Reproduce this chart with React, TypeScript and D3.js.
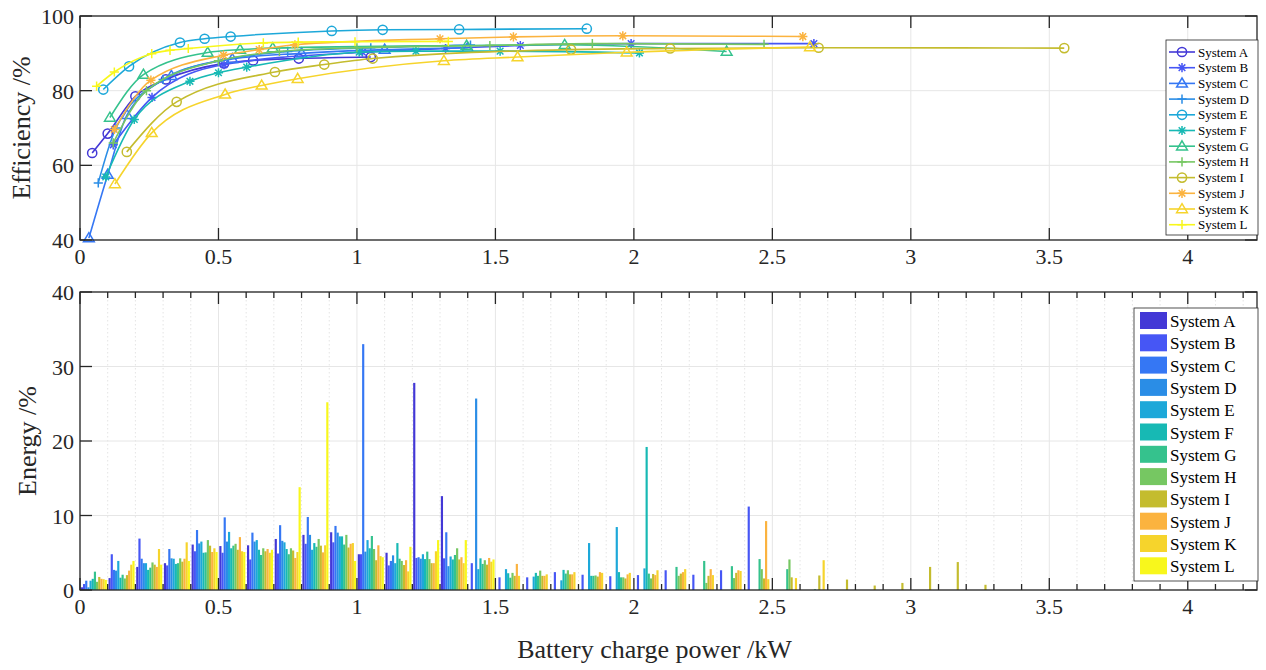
import React from "react";
import * as d3 from "d3";

const systems = ["System A", "System B", "System C", "System D", "System E", "System F", "System G", "System H", "System I", "System J", "System K", "System L"];
const colors = ["#4338d6", "#4656f5", "#3577f4", "#2a8de6", "#1da8d9", "#17b9b4", "#35c28d", "#76c762", "#c4bc2e", "#fbb33f", "#f6d42c", "#f8f71c"];
const markers = ["o", "*", "^", "+", "o", "*", "^", "+", "o", "*", "^", "+"];

// efficiency curves (battery charge power kW, efficiency %)
const powerA = [0.044, 0.1, 0.2, 0.31, 0.52, 0.625, 0.79, 1.05];
const effA = [63.3, 68.5, 78.5, 83, 87.3, 88.1, 88.6, 89.0];
const powerB = [0.12, 0.26, 0.52, 1.02, 1.32, 1.59, 1.99, 2.65];
const effB = [65.5, 78.2, 87.0, 90.3, 91.3, 92.1, 92.6, 92.6];
const powerC = [0.032, 0.1, 0.17, 0.33, 0.55, 0.8, 1.1, 1.4];
const effC = [40.5, 57.5, 73.5, 84, 88.5, 90, 91, 91.5];
const powerD = [0.066, 0.13, 0.3, 0.5, 0.75, 1.05, 1.41];
const effD = [55.3, 70, 83, 88, 90.5, 91.5, 92.2];
const powerE = [0.084, 0.177, 0.361, 0.45, 0.544, 0.909, 1.093, 1.369, 1.83];
const effE = [80.3, 86.5, 92.9, 93.9, 94.5, 96.0, 96.3, 96.4, 96.6];
const powerF = [0.093, 0.196, 0.397, 0.5, 0.602, 1.008, 1.213, 1.517, 2.02];
const effF = [56.9, 72.3, 82.5, 84.8, 86.3, 90.3, 90.6, 90.6, 90.1];
const powerG = [0.108, 0.229, 0.461, 0.578, 0.696, 1.396, 1.75, 2.335];
const effG = [72.8, 84.3, 90.2, 91.0, 91.4, 92.1, 92.3, 90.5];
const powerH = [0.12, 0.24, 0.5, 0.72, 1.0, 1.48, 1.85, 2.47];
const effH = [66, 80, 88, 90.5, 91.5, 92.1, 92.6, 92.4];
const powerI = [0.169, 0.349, 0.704, 0.882, 1.057, 1.773, 2.131, 2.667, 3.554];
const effI = [63.6, 77.0, 85.0, 87.0, 88.6, 91.0, 91.3, 91.5, 91.4];
const powerJ = [0.124, 0.256, 0.518, 0.647, 0.776, 1.3, 1.565, 1.96, 2.61];
const effJ = [69.6, 82.8, 89.5, 91.0, 92.3, 93.9, 94.4, 94.7, 94.5];
const powerK = [0.126, 0.259, 0.524, 0.656, 0.786, 1.314, 1.58, 1.974, 2.636];
const effK = [55.0, 68.7, 79.0, 81.4, 83.2, 88.0, 89.0, 90.3, 91.7];
const powerL = [0.06, 0.124, 0.259, 0.325, 0.391, 0.662, 0.788, 0.993, 1.33];
const effL = [81.2, 85.0, 89.9, 90.8, 91.3, 92.8, 93.0, 93.1, 93.2];

// energy share per 0.1 kW bin (%)
const binCenters = [0.05, 0.15, 0.25, 0.35, 0.45, 0.55, 0.65, 0.75, 0.85, 0.95, 1.05, 1.15, 1.25, 1.35, 1.45, 1.55, 1.65, 1.75, 1.85, 1.95, 2.05, 2.15, 2.25, 2.35, 2.45, 2.55, 2.65, 2.75, 2.85, 2.95, 3.05, 3.15, 3.25];
const energyA = [0.36, 1.6, 3.1, 3.6, 6.1, 5.9, 6.0, 6.85, 7.4, 7.75, 4.8, 5.0, 27.8, 12.6, 0, 0, 0, 0, 0, 0, 0, 0, 0, 0, 0, 0, 0, 0, 0, 0, 0, 0, 0];
const energyB = [0.8, 4.8, 6.9, 3.3, 5.2, 5.0, 4.1, 4.9, 6.2, 6.4, 4.8, 3.3, 4.3, 4.25, 3.6, 1.7, 1.7, 2.4, 2.05, 1.85, 2.0, 2.65, 2.05, 2.65, 11.2, 0, 0, 0, 0, 0, 0, 0, 0];
const energyC = [1.25, 2.7, 4.2, 5.5, 8.05, 9.75, 7.7, 8.7, 9.8, 8.6, 33.0, 3.9, 4.4, 7.75, 0, 0, 0, 0, 0, 0, 0, 0, 0, 0, 0, 0, 0, 0, 0, 0, 0, 0, 0];
const energyD = [0.36, 2.6, 3.6, 4.25, 6.25, 6.5, 6.5, 6.6, 7.4, 7.7, 5.15, 4.65, 4.2, 3.2, 25.7, 0, 0, 0, 0, 0, 0, 0, 0, 0, 0, 0, 0, 0, 0, 0, 0, 0, 0];
const energyE = [1.25, 3.9, 3.6, 4.2, 6.5, 7.8, 6.7, 6.4, 5.4, 7.2, 6.7, 3.6, 4.8, 4.5, 2.8, 2.8, 1.8, 1.3, 6.3, 8.45, 2.9, 0, 0, 0, 0, 0, 0, 0, 0, 0, 0, 0, 0];
const energyF = [1.5, 1.65, 2.7, 3.5, 5.0, 5.6, 5.4, 5.5, 6.3, 7.2, 5.6, 6.3, 4.15, 4.1, 4.25, 2.25, 2.3, 2.7, 1.9, 2.4, 19.2, 0, 0, 0, 0, 0, 0, 0, 0, 0, 0, 0, 0];
const energyG = [2.46, 2.05, 3.0, 3.6, 5.05, 5.95, 4.7, 4.8, 5.8, 6.1, 7.25, 4.2, 5.15, 4.7, 3.5, 1.65, 1.9, 2.2, 1.9, 1.7, 2.2, 3.1, 3.9, 3.2, 4.15, 2.8, 0.1, 0, 0, 0, 0, 0, 0];
const energyH = [1.1, 1.55, 3.7, 4.25, 6.7, 6.2, 5.6, 5.6, 6.85, 7.4, 5.5, 3.9, 4.15, 5.6, 4.0, 2.3, 2.6, 2.65, 1.95, 1.7, 1.55, 1.9, 0.95, 1.6, 2.8, 4.1, 0, 0, 0, 0, 0, 0, 0];
const energyI = [1.75, 2.0, 3.4, 3.8, 5.95, 5.4, 5.2, 5.3, 5.95, 5.7, 4.0, 3.35, 3.6, 4.1, 3.4, 1.9, 1.9, 2.1, 1.8, 1.55, 2.15, 2.2, 1.9, 2.3, 1.55, 1.7, 1.95, 1.4, 0.6, 0.95, 3.1, 3.75, 0.7];
const energyJ = [1.5, 2.6, 3.1, 4.2, 5.1, 7.1, 5.5, 4.3, 5.05, 6.2, 6.0, 4.0, 3.6, 4.4, 4.3, 3.5, 1.9, 2.1, 2.4, 2.1, 2.0, 2.4, 2.8, 2.65, 9.25, 0, 0, 0, 0, 0, 0, 0, 0];
const energyK = [1.45, 3.4, 5.5, 6.4, 5.6, 5.2, 5.0, 5.1, 6.0, 6.3, 4.55, 2.5, 5.2, 3.6, 3.8, 1.9, 2.1, 2.4, 2.3, 2.3, 2.65, 2.8, 2.0, 2.55, 1.45, 1.6, 4.0, 0, 0, 0, 0, 0, 0];
const energyL = [1.35, 3.9, 3.4, 3.9, 5.1, 5.1, 5.4, 13.8, 25.2, 3.9, 4.4, 5.8, 6.7, 6.7, 4.1, 0, 0, 0, 0, 0, 0, 0, 0, 0, 0, 0, 0, 0, 0, 0, 0, 0, 0];

const xTicks = [0, 0.5, 1, 1.5, 2, 2.5, 3, 3.5, 4];
const effTicks = [40, 60, 80, 100];
const energyTicks = [0, 10, 20, 30, 40];

const powers = [powerA, powerB, powerC, powerD, powerE, powerF, powerG, powerH, powerI, powerJ, powerK, powerL];
const effs = [effA, effB, effC, effD, effE, effF, effG, effH, effI, effJ, effK, effL];
const energies = [energyA, energyB, energyC, energyD, energyE, energyF, energyG, energyH, energyI, energyJ, energyK, energyL];

const FONT = "'Liberation Serif', 'Times New Roman', serif";
const L = 80, R = 1257;
const T1 = 16, B1 = 240;
const T2 = 292, B2 = 590;
const TICK = 12;

const Marker = ({ type, x, y, color }: { type: string; x: number; y: number; color: string }) => {
  const s = 4.6;
  if (type === "o") return <circle cx={x} cy={y} r={s} fill="none" stroke={color} strokeWidth={1.5} />;
  if (type === "^")
    return <path d={`M${x},${y - s - 0.8}L${x + s + 0.8},${y + s * 0.8}L${x - s - 0.8},${y + s * 0.8}Z`} fill="none" stroke={color} strokeWidth={1.5} />;
  if (type === "+")
    return <path d={`M${x - s},${y}H${x + s}M${x},${y - s}V${y + s}`} stroke={color} strokeWidth={1.5} />;
  const d = s * 0.72;
  return (
    <path
      d={`M${x - s},${y}H${x + s}M${x},${y - s}V${y + s}M${x - d},${y - d}L${x + d},${y + d}M${x - d},${y + d}L${x + d},${y - d}`}
      stroke={color}
      strokeWidth={1.5}
    />
  );
};

export default function App() {
  const x = d3.scaleLinear().domain([0, 4.25]).range([L, R]);
  const yE = d3.scaleLinear().domain([40, 100]).range([B1, T1]);
  const yB = d3.scaleLinear().domain([0, 40]).range([B2, T2]);

  const line = d3
    .line<[number, number]>()
    .x((d) => x(d[0]))
    .y((d) => yE(d[1]))
    .curve(d3.curveMonotoneX);

  const groupW = x(0.094) - x(0);
  const barW = groupW / systems.length;
  const minorTicks = d3.range(1, 43).map((i) => i / 10).filter((v) => Math.abs(v * 2 - Math.round(v * 2)) > 1e-6);

  const axisFrame = (top: number, bottom: number) => (
    <rect x={L} y={top} width={R - L} height={bottom - top} fill="none" stroke="#262626" strokeWidth={1.3} />
  );

  return (
    <svg width={1266} height={670} style={{ position: "absolute", left: 0, top: 0, background: "#fff" }} fontFamily={FONT}>
      {/* ---------- top: efficiency ---------- */}
      <g>
        {xTicks.map((t) => (
          <line key={"gx" + t} x1={x(t)} x2={x(t)} y1={T1} y2={B1} stroke="#e6e6e6" strokeWidth={1} />
        ))}
        {effTicks.map((t) => (
          <line key={"gy" + t} x1={L} x2={R} y1={yE(t)} y2={yE(t)} stroke="#e6e6e6" strokeWidth={1} />
        ))}
        {powers.map((p, i) => {
          const pts = p.map((v, j) => [v, effs[i][j]] as [number, number]);
          return (
            <g key={"s" + i}>
              <path d={line(pts) || ""} fill="none" stroke={colors[i]} strokeWidth={1.6} />
              {pts.map((d, j) => (
                <Marker key={j} type={markers[i]} x={x(d[0])} y={yE(d[1])} color={colors[i]} />
              ))}
            </g>
          );
        })}
        {xTicks.map((t) => (
          <g key={"tx" + t}>
            <line x1={x(t)} x2={x(t)} y1={B1} y2={B1 - TICK} stroke="#262626" strokeWidth={1.3} />
            <line x1={x(t)} x2={x(t)} y1={T1} y2={T1 + TICK} stroke="#262626" strokeWidth={1.3} />
            <text x={x(t)} y={B1 + 24} textAnchor="middle" fontSize={22} fill="#262626">{t}</text>
          </g>
        ))}
        {effTicks.map((t) => (
          <g key={"ty" + t}>
            <line x1={L} x2={L + TICK} y1={yE(t)} y2={yE(t)} stroke="#262626" strokeWidth={1.3} />
            <line x1={R} x2={R - TICK} y1={yE(t)} y2={yE(t)} stroke="#262626" strokeWidth={1.3} />
            <text x={L - 6} y={yE(t) + 8} textAnchor="end" fontSize={22} fill="#262626">{t}</text>
          </g>
        ))}
        {axisFrame(T1, B1)}
        <text transform={`translate(30,${(T1 + B1) / 2}) rotate(-90)`} textAnchor="middle" fontSize={26} fill="#262626">Efficiency /%</text>
        {/* legend */}
        <rect x={1166} y={40} width={92} height={195} fill="#fff" stroke="#262626" strokeWidth={0.8} />
        {systems.map((s, i) => {
          const yy = 52 + i * 15.7;
          return (
            <g key={"lg" + i}>
              <line x1={1169} x2={1195} y1={yy} y2={yy} stroke={colors[i]} strokeWidth={1.6} />
              <Marker type={markers[i]} x={1182} y={yy} color={colors[i]} />
              <text x={1198} y={yy + 4.5} fontSize={13} fill="#000">{s}</text>
            </g>
          );
        })}
      </g>

      {/* ---------- bottom: energy distribution ---------- */}
      <g>
        {minorTicks.map((t) => (
          <line key={"mg" + t} x1={x(t)} x2={x(t)} y1={T2} y2={B2} stroke="#e4e4e4" strokeWidth={1} strokeDasharray="1.5,2.5" />
        ))}
        {xTicks.map((t) => (
          <line key={"gx2" + t} x1={x(t)} x2={x(t)} y1={T2} y2={B2} stroke="#e6e6e6" strokeWidth={1} />
        ))}
        {energyTicks.map((t) => (
          <line key={"gy2" + t} x1={L} x2={R} y1={yB(t)} y2={yB(t)} stroke="#e6e6e6" strokeWidth={1} />
        ))}
        {energies.map((arr, i) =>
          arr.map((v, j) =>
            v > 0 ? (
              <rect
                key={`b${i}-${j}`}
                x={x(binCenters[j]) - groupW / 2 + i * barW}
                y={yB(v)}
                width={barW}
                height={yB(0) - yB(v)}
                fill={colors[i]}
              />
            ) : null
          )
        )}
        {minorTicks.map((t) => (
          <g key={"mt" + t}>
            <line x1={x(t)} x2={x(t)} y1={B2} y2={B2 - TICK / 2} stroke="#262626" strokeWidth={1.3} />
            <line x1={x(t)} x2={x(t)} y1={T2} y2={T2 + TICK / 2} stroke="#262626" strokeWidth={1.3} />
          </g>
        ))}
        {xTicks.map((t) => (
          <g key={"tx2" + t}>
            <line x1={x(t)} x2={x(t)} y1={B2} y2={B2 - TICK} stroke="#262626" strokeWidth={1.3} />
            <line x1={x(t)} x2={x(t)} y1={T2} y2={T2 + TICK} stroke="#262626" strokeWidth={1.3} />
            <text x={x(t)} y={B2 + 24} textAnchor="middle" fontSize={22} fill="#262626">{t}</text>
          </g>
        ))}
        {energyTicks.map((t) => (
          <g key={"ty2" + t}>
            <line x1={L} x2={L + TICK} y1={yB(t)} y2={yB(t)} stroke="#262626" strokeWidth={1.3} />
            <line x1={R} x2={R - TICK} y1={yB(t)} y2={yB(t)} stroke="#262626" strokeWidth={1.3} />
            <text x={L - 6} y={yB(t) + 8} textAnchor="end" fontSize={22} fill="#262626">{t}</text>
          </g>
        ))}
        {axisFrame(T2, B2)}
        <text transform={`translate(36,${(T2 + B2) / 2}) rotate(-90)`} textAnchor="middle" fontSize={26} fill="#262626">Energy /%</text>
        <text x={(L + R) / 2 - 14} y={658} textAnchor="middle" fontSize={26} fill="#262626">Battery charge power /kW</text>
        {/* legend */}
        <rect x={1134} y={308} width={124} height={273} fill="#fff" stroke="#262626" strokeWidth={0.8} />
        {systems.map((s, i) => {
          const yy = 321 + i * 22.3;
          return (
            <g key={"lb" + i}>
              <rect x={1140} y={yy - 9} width={27} height={17} fill={colors[i]} />
              <text x={1170} y={yy + 6} fontSize={17} fill="#000">{s}</text>
            </g>
          );
        })}
      </g>
    </svg>
  );
}
